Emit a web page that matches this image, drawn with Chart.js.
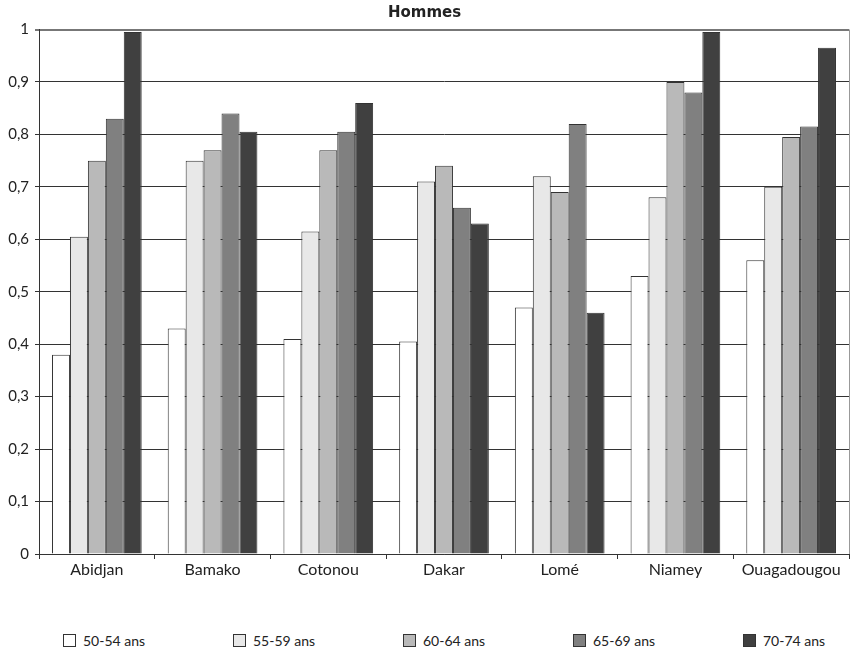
<!DOCTYPE html>
<html>
<head>
<meta charset="utf-8">
<script src="https://cdn.jsdelivr.net/npm/chart.js@4/dist/chart.umd.min.js"></script>
<style>
  html, body { margin: 0; padding: 0; background: #fff; }
  #wrap { position: relative; width: 852px; height: 653px; font-family: Lato, "DejaVu Sans", sans-serif; }
  #box { position: absolute; left: 0; top: 0; width: 852px; height: 600px; }
  #legend { position: absolute; left: 63px; top: 632px; display: flex; }
  .item { width: 170px; display: flex; align-items: center; font-size: 14px; color: #222; }
  .sw { width: 13px; height: 13px; border: 1px solid #333; box-sizing: border-box; margin-right: 7px; }
</style>
</head>
<body>
<div id="wrap">
  <div id="box"><canvas id="chart"></canvas></div>
  <div id="legend"></div>
</div>
<script>
  // villes et tranches d'age
  var cities = ['Abidjan', 'Bamako', 'Cotonou', 'Dakar', 'Lomé', 'Niamey', 'Ouagadougou'];
  var ageGroups = ['50-54 ans', '55-59 ans', '60-64 ans', '65-69 ans', '70-74 ans'];

  // valeurs, une liste par tranche
  var age5054 = [0.38, 0.43, 0.41, 0.405, 0.47, 0.53, 0.56];
  var age5559 = [0.605, 0.75, 0.615, 0.71, 0.72, 0.68, 0.70];
  var age6064 = [0.75, 0.77, 0.77, 0.74, 0.69, 0.90, 0.795];
  var age6569 = [0.83, 0.84, 0.805, 0.66, 0.82, 0.88, 0.815];
  var age7074 = [0.995, 0.805, 0.86, 0.63, 0.46, 0.995, 0.965];

  var fills = ['#ffffff', '#e8e8e8', '#b9b9b9', '#808080', '#404040'];
  var series = [age5054, age5559, age6064, age6569, age7074];

  var datasets = series.map(function(values, i) {
    return {
      label: ageGroups[i],
      data: values,
      backgroundColor: fills[i],
      borderColor: '#333',
      borderWidth: 1,
      categoryPercentage: 0.775,
      barPercentage: 1.0
    };
  });

  // bordure droite du cadre
  var frame = {
    id: 'frame',
    afterDraw: function(chart) {
      var a = chart.chartArea, ctx = chart.ctx;
      ctx.save();
      ctx.strokeStyle = '#999';
      ctx.lineWidth = 1;
      ctx.beginPath();
      ctx.moveTo(a.right + 0.5, a.top);
      ctx.lineTo(a.right + 0.5, a.bottom);
      ctx.stroke();
      ctx.restore();
    }
  };

  var ctx = document.getElementById('chart').getContext('2d');
  var chart = new Chart(ctx, {
    type: 'bar',
    data: { labels: cities, datasets: datasets },
    plugins: [frame],
    options: {
      responsive: true,
      maintainAspectRatio: false,
      animation: false,
      layout: { padding: { top: 0, right: 3, left: 0, bottom: 0 } },
      plugins: {
        legend: { display: false },
        tooltip: { enabled: false },
        title: {
          display: true,
          text: 'Hommes',
          color: '#222',
          font: { family: 'DejaVu Sans', size: 15, weight: 'bold', lineHeight: 1.1 },
          padding: { top: 5, bottom: 8 }
        }
      },
      scales: {
        x: {
          offset: true,
          grid: { display: true, drawOnChartArea: false, offset: true, tickLength: 5, color: '#333' },
          border: { display: true, color: '#333', width: 1 },
          ticks: { color: '#222', font: { family: 'Lato', size: 16 }, padding: 1, maxRotation: 0 },
          afterFit: function(scale) { scale.height = 46; }
        },
        y: {
          min: 0,
          max: 1,
          ticks: {
            stepSize: 0.1,
            color: '#222',
            font: { family: 'Lato', size: 15 },
            padding: 6,
            callback: function(v) {
              if (v === 0 || v === 1) return String(v);
              return v.toFixed(1).replace('.', ',');
            }
          },
          grid: {
            color: function(c) { return c.tick && c.tick.value === 1 ? '#777' : '#333'; },
            lineWidth: function(c) { return c.tick && c.tick.value === 1 ? 2 : 1; },
            tickLength: 4
          },
          border: { display: true, color: '#333', width: 1 },
          afterFit: function(scale) { scale.width = 39; }
        }
      }
    }
  });

  // legende en HTML
  var legend = document.getElementById('legend');
  ageGroups.forEach(function(name, i) {
    legend.innerHTML += '<div class="item"><span class="sw" style="background:' + fills[i] + '"></span>' + name + '</div>';
  });
</script>
</body>
</html>
